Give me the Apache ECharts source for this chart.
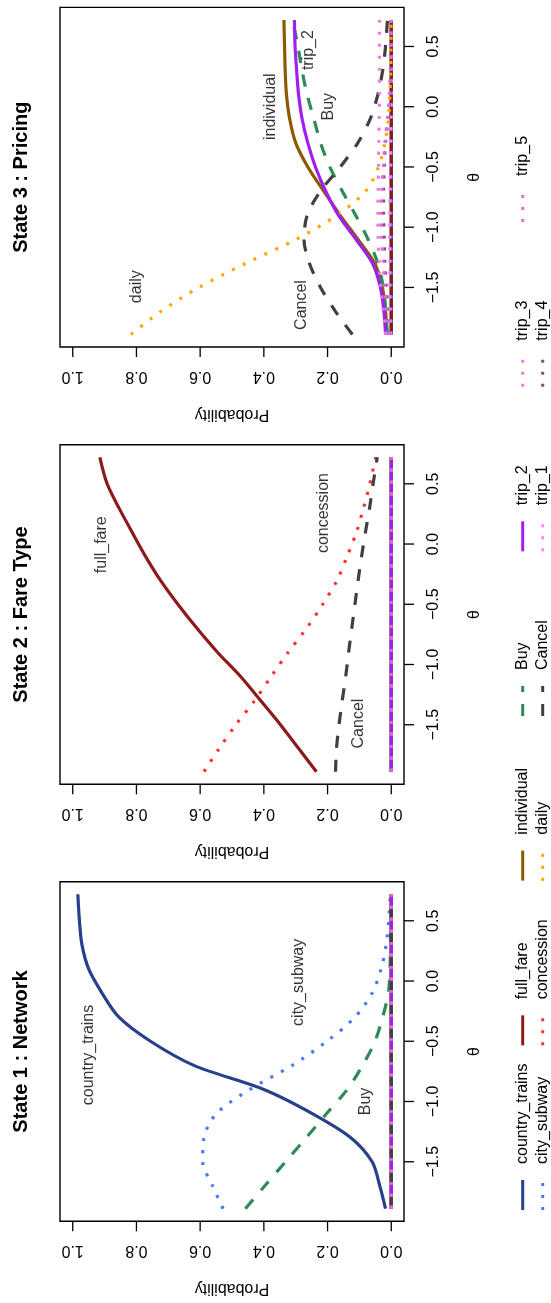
<!DOCTYPE html>
<html><head><meta charset="utf-8">
<script src="https://cdn.jsdelivr.net/npm/echarts@6/dist/echarts.min.js"></script>
<style>html,body{margin:0;padding:0;background:#fff}#c{width:551px;height:1303px}</style>
</head><body><div id="c"></div>
<script>
// ---------- data ----------
const theta = [-1.89, -1.7, -1.5, -1.3, -1.1, -0.9, -0.7, -0.5, -0.3, -0.1, 0.1, 0.3, 0.5, 0.72];
const zero  = [0, 0, 0, 0, 0, 0, 0, 0, 0, 0, 0, 0, 0, 0];
const probTicks  = [0, 0.2, 0.4, 0.6, 0.8, 1.0];
const thetaTicks = [-1.5, -1.0, -0.5, 0, 0.5];

// State 1 : Network
const s1_country_trains = [0.018, 0.036, 0.060, 0.127, 0.248, 0.400, 0.620, 0.756, 0.855, 0.908, 0.950, 0.971, 0.979, 0.984];
const s1_city_subway    = [0.528, 0.561, 0.592, 0.588, 0.549, 0.444, 0.311, 0.202, 0.114, 0.060, 0.032, 0.016, 0.008, 0.003];
const s1_Buy            = [0.458, 0.397, 0.332, 0.267, 0.203, 0.138, 0.090, 0.051, 0.027, 0.009, 0.004, 0.002, 0.001, 0.0005];
const s1_labels = [['country_trains', 0.95, -0.614], ['city_subway', 0.29, -0.011], ['Buy', 0.081, -1.0]];

// State 2 : Fare Type
const s2_full_fare  = [0.235, 0.290, 0.348, 0.410, 0.473, 0.545, 0.610, 0.670, 0.725, 0.772, 0.814, 0.855, 0.892, 0.915];
const s2_concession = [0.588, 0.541, 0.488, 0.429, 0.377, 0.324, 0.266, 0.215, 0.170, 0.138, 0.109, 0.087, 0.067, 0.049];
const s2_Cancel     = [0.175, 0.172, 0.164, 0.154, 0.143, 0.134, 0.124, 0.114, 0.104, 0.093, 0.081, 0.068, 0.057, 0.044];
const s2_labels = [['full_fare', 0.91, -0.006], ['concession', 0.214, 0.257], ['Cancel', 0.102, -1.49]];

// State 3 : Pricing
const s3_individual = [0.013, 0.018, 0.028, 0.052, 0.105, 0.161, 0.212, 0.262, 0.300, 0.319, 0.329, 0.333, 0.335, 0.337];
const s3_daily      = [0.817, 0.724, 0.604, 0.457, 0.298, 0.170, 0.080, 0.040, 0.020, 0.009, 0.004, 0.002, 0.001, 0.0005];
const s3_Buy        = [0.013, 0.017, 0.025, 0.042, 0.073, 0.112, 0.154, 0.193, 0.222, 0.243, 0.264, 0.280, 0.293, 0.310];
const s3_Cancel     = [0.122, 0.175, 0.222, 0.257, 0.274, 0.264, 0.222, 0.160, 0.105, 0.066, 0.042, 0.027, 0.018, 0.012];
const s3_trip_2     = [0.018, 0.023, 0.034, 0.059, 0.111, 0.166, 0.206, 0.238, 0.262, 0.280, 0.291, 0.297, 0.302, 0.304];
const s3_trip_1     = [0.003, 0.004, 0.005, 0.005, 0.005, 0.005, 0.004, 0.003, 0.002, 0.001, 0, 0, 0, 0];
const s3_trip_3     = [0.017, 0.025, 0.033, 0.038, 0.041, 0.042, 0.041, 0.040, 0.039, 0.038, 0.037, 0.037, 0.037, 0.037];
const s3_trip_4     = [0.008, 0.012, 0.016, 0.020, 0.022, 0.024, 0.024, 0.022, 0.018, 0.010, 0.004, 0.002, 0.001, 0.0005];
const s3_trip_5     = [0.010, 0.015, 0.020, 0.025, 0.030, 0.033, 0.030, 0.025, 0.020, 0.012, 0.006, 0.003, 0.002, 0.001];
const s3_labels = [['daily', 0.80, -1.494], ['individual', 0.379, 0.0], ['trip_2', 0.259, 0.47], ['Buy', 0.196, 0.0], ['Cancel', 0.28, -1.646]];

const legendNames = ['country_trains', 'city_subway', 'full_fare', 'concession', 'individual', 'daily',
                     'Buy', 'Cancel', 'trip_2', 'trip_1', 'trip_3', 'trip_4', 'trip_5'];

// ---------- styles / layout ----------
const FONT = '"Liberation Sans", Arial, Helvetica, sans-serif';
const DOT = [3, 9], DASH = [12, 12];
const styles = {
  country_trains: { color: '#27408B', type: 'solid' },
  city_subway:    { color: '#4876FF', type: DOT },
  full_fare:      { color: '#8B1A1A', type: 'solid' },
  concession:     { color: '#FF3030', type: DOT },
  individual:     { color: '#8B5A00', type: 'solid' },
  daily:          { color: '#FFA500', type: DOT },
  Buy:            { color: '#2E8B57', type: DASH },
  Cancel:         { color: '#404040', type: DASH },
  trip_2:         { color: '#A020F0', type: 'solid' },
  trip_1:         { color: '#FF83FA', type: DOT },
  trip_3:         { color: '#EE7AE9', type: DOT },
  trip_4:         { color: '#8B4789', type: DOT },
  trip_5:         { color: '#DA70D6', type: DOT }
};
const drawOrder = ['country_trains', 'concession', 'full_fare', 'city_subway', 'individual', 'daily',
                   'Buy', 'trip_2', 'Cancel', 'trip_1', 'trip_3', 'trip_4', 'trip_5'];

const panels = [
  { title: 'State 3 : Pricing', labels: s3_labels,
    data: { individual: s3_individual, daily: s3_daily, Buy: s3_Buy, Cancel: s3_Cancel,
            trip_2: s3_trip_2, trip_1: s3_trip_1, trip_3: s3_trip_3, trip_4: s3_trip_4, trip_5: s3_trip_5 } },
  { title: 'State 2 : Fare Type', labels: s2_labels,
    data: { full_fare: s2_full_fare, concession: s2_concession, Cancel: s2_Cancel } },
  { title: 'State 1 : Network', labels: s1_labels,
    data: { country_trains: s1_country_trains, city_subway: s1_city_subway, Buy: s1_Buy } }
];

const GL = 60, GW = 344, GH = 339.6;
const tops = [7.4, 444.7, 881.7];
const P_MIN = -0.04, P_MAX = 1.04, T_MIN = -1.9944, T_MAX = 0.8244;
const TICK_LEN = 10;

const grids = [], xAxes = [], yAxes = [], series = [], graphics = [];
const fmtTheta = v => (v < 0 ? '\u2212' : '') + Math.abs(v).toFixed(1);

panels.forEach((p, i) => {
  grids.push({ left: GL, top: tops[i], width: GW, height: GH, show: true,
               borderColor: '#000', borderWidth: 1.4, backgroundColor: 'transparent' });
  xAxes.push({
    gridIndex: i, type: 'value', min: P_MIN, max: P_MAX, inverse: true, position: 'bottom',
    axisLine: { show: false, onZero: false }, splitLine: { show: false }, axisTick: { show: false },
    axisLabel: { customValues: probTicks, formatter: v => v.toFixed(1), rotate: 180, margin: 21,
                 color: '#000', fontSize: 16, fontFamily: FONT, hideOverlap: false },
    name: 'Probability', nameLocation: 'middle', nameGap: 59, nameRotate: 180,
    nameTextStyle: { color: '#000', fontSize: 16, fontFamily: FONT }
  });
  yAxes.push({
    gridIndex: i, type: 'value', min: T_MIN, max: T_MAX, position: 'right',
    axisLine: { show: false, onZero: false }, splitLine: { show: false }, axisTick: { show: false },
    axisLabel: { customValues: thetaTicks, formatter: fmtTheta, rotate: 90, margin: 22,
                 color: '#000', fontSize: 16, fontFamily: FONT, hideOverlap: false },
    name: '\u03b8', nameLocation: 'middle', nameGap: 63, nameRotate: 90,
    nameTextStyle: { color: '#000', fontSize: 16, fontFamily: FONT }
  });
  drawOrder.forEach(name => {
    const vals = p.data[name] || zero;
    const st = styles[name];
    series.push({
      type: 'line', name: name, xAxisIndex: i, yAxisIndex: i,
      data: theta.map((t, k) => [vals[k], t]),
      symbol: 'none', showSymbol: false, smooth: 0.3, silent: true, animation: false,
      lineStyle: { color: st.color, width: 3.2, type: st.type, cap: 'butt' }
    });
  });
  series.push({
    type: 'scatter', xAxisIndex: i, yAxisIndex: i, silent: true, animation: false, z: 5,
    data: p.labels.map(l => [l[1], l[2], l[0]]),
    symbolSize: 1, itemStyle: { color: 'rgba(0,0,0,0)' },
    label: { show: true, position: 'inside', rotate: 90, formatter: q => q.data[2],
             color: '#000', fontSize: 16, fontFamily: FONT }
  });
  graphics.push({
    type: 'text', x: 21, y: tops[i] + GH / 2, rotation: Math.PI / 2, silent: true,
    style: { text: p.title, font: 'bold 20px ' + FONT, fill: '#000',
             align: 'center', verticalAlign: 'middle', textAlign: 'center', textVerticalAlign: 'middle' }
  });
});

// legend (two rows, seven columns, rotated)
const rowX = [522.7, 542.7];
legendNames.forEach((name, idx) => {
  const col = Math.floor(idx / 2), row = idx % 2;
  const start = 1210 - 164.67 * col;
  const x = rowX[row];
  const st = styles[name];
  graphics.push({
    type: 'line', silent: true,
    shape: { x1: x, y1: start, x2: x, y2: start - 30 },
    style: { stroke: st.color, lineWidth: 3, lineDash: st.type === 'solid' ? null : st.type }
  });
  graphics.push({
    type: 'text', x: x, y: start - 46, rotation: Math.PI / 2, silent: true,
    style: { text: name, font: '16px ' + FONT, fill: '#000',
             align: 'left', verticalAlign: 'middle', textAlign: 'left', textVerticalAlign: 'middle' }
  });
});

const chart = echarts.init(document.getElementById('c'), null, { renderer: 'canvas' });
chart.setOption({
  animation: false,
  backgroundColor: '#fff',
  grid: grids, xAxis: xAxes, yAxis: yAxes, series: series, graphic: graphics
});

// tick marks on the frame edges, positioned through each grid's own axis scales
const tickGraphics = [];
panels.forEach((p, i) => {
  probTicks.forEach(v => {
    const c = chart.convertToPixel({ gridIndex: i }, [v, T_MIN]);
    tickGraphics.push({ type: 'line', silent: true, z: 10,
      shape: { x1: c[0], y1: c[1], x2: c[0], y2: c[1] + TICK_LEN },
      style: { stroke: '#000', lineWidth: 1.3 } });
  });
  thetaTicks.forEach(v => {
    const c = chart.convertToPixel({ gridIndex: i }, [P_MIN, v]);
    tickGraphics.push({ type: 'line', silent: true, z: 10,
      shape: { x1: c[0], y1: c[1], x2: c[0] + TICK_LEN, y2: c[1] },
      style: { stroke: '#000', lineWidth: 1.3 } });
  });
});
chart.setOption({ graphic: graphics.concat(tickGraphics) });
</script></body></html>
